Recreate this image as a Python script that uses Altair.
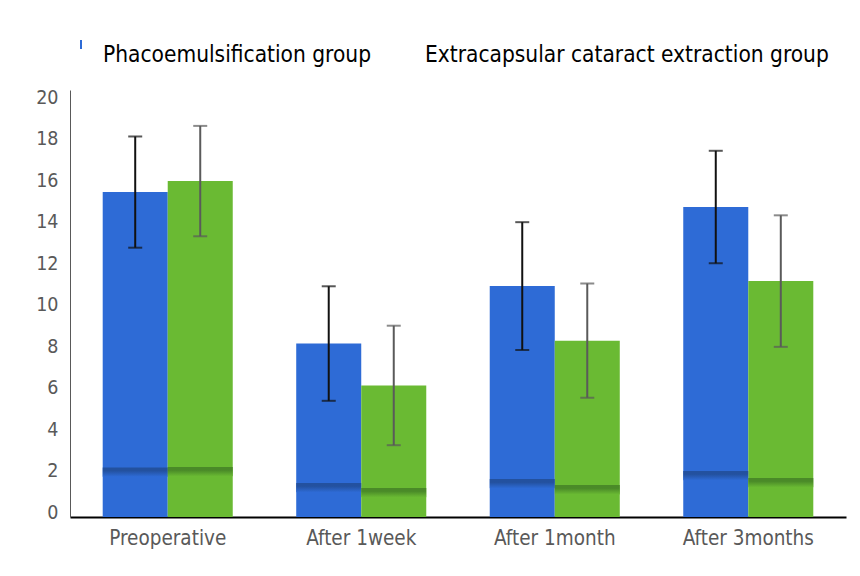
import altair as alt
import pandas as pd

categories = ["Preoperative", "After 1week", "After 1month", "After 3months"]
groups = ["Phacoemulsification group", "Extracapsular cataract extraction group"]
phaco_mean = [15.66, 8.36, 11.13, 14.94]
phaco_sd = [2.68, 2.76, 3.08, 2.71]
ecce_mean = [16.19, 6.34, 8.50, 11.37]
ecce_sd = [2.66, 2.88, 2.75, 3.17]
phaco_band = [2.39, 1.64, 1.83, 2.22]
ecce_band = [2.41, 1.40, 1.54, 1.88]
y_ticks = list(range(0, 21, 2))

bar_colors = ["#2e6bd6", "#6aba33"]
dark_colors = ["#23519f", "#4a8a28"]
err_colors = ["#111111", "#5a5a5a"]
FONT = "Liberation Sans Narrow, DejaVu Sans Condensed, Roboto Condensed, sans-serif"

rows = []
for g, means, sds, bands, ec in [
    (groups[0], phaco_mean, phaco_sd, phaco_band, err_colors[0]),
    (groups[1], ecce_mean, ecce_sd, ecce_band, err_colors[1]),
]:
    for c, m, s, b in zip(categories, means, sds, bands):
        rows.append({"category": c, "group": g, "mean": m, "lo": m - s, "hi": m + s,
                     "band": b, "band_lo": b - 0.45, "errcolor": ec})
df = pd.DataFrame(rows)

x_enc = alt.X("category:N", sort=categories,
              scale=alt.Scale(paddingInner=0.328, paddingOuter=0.169),
              axis=alt.Axis(title=None, labelAngle=0, ticks=False, domainColor="#000000",
                            domainWidth=2, labelColor="#595959", labelFontSize=20.5,
                            labelFont=FONT, labelPadding=11))
xo_enc = alt.XOffset("group:N", sort=groups, scale=alt.Scale(paddingInner=0, paddingOuter=0))
y_scale = alt.Scale(domain=[0, 20.58], nice=False, zero=True)

base = alt.Chart(df)

bars = base.mark_bar().encode(
    x=x_enc, xOffset=xo_enc,
    y=alt.Y("mean:Q", scale=y_scale,
            axis=alt.Axis(title=None, values=y_ticks, grid=False, ticks=False,
                          domainColor="#595959", domainWidth=1, labelColor="#595959",
                          labelFontSize=19.5, labelFont=FONT, labelPadding=12, labelOffset=-5)),
    color=alt.Color("group:N", sort=groups, scale=alt.Scale(domain=groups, range=bar_colors), legend=None),
)

band_layers = []
for g, dc, bc in zip(groups, dark_colors, bar_colors):
    band_layers.append(
        base.transform_filter(alt.datum.group == g).mark_bar(
            color=alt.Gradient(gradient="linear", x1=0, x2=0, y1=0, y2=1,
                               stops=[alt.GradientStop(offset=0, color=dc),
                                      alt.GradientStop(offset=0.35, color=dc),
                                      alt.GradientStop(offset=1, color=bc)])
        ).encode(x=x_enc, xOffset=xo_enc, y=alt.Y("band:Q", scale=y_scale), y2="band_lo:Q")
    )

err = base.mark_rule(strokeWidth=2).encode(
    x=x_enc, xOffset=xo_enc, y=alt.Y("lo:Q", scale=y_scale), y2="hi:Q",
    color=alt.Color("errcolor:N", scale=None),
)
cap_hi = base.mark_tick(size=14, thickness=2).encode(
    x=x_enc, xOffset=xo_enc, y=alt.Y("hi:Q", scale=y_scale),
    color=alt.Color("errcolor:N", scale=None),
)
cap_lo = base.mark_tick(size=14, thickness=2).encode(
    x=x_enc, xOffset=xo_enc, y=alt.Y("lo:Q", scale=y_scale),
    color=alt.Color("errcolor:N", scale=None),
)

legend_df = pd.DataFrame({"group": groups})
leg_base = alt.Chart(legend_df)
leg1 = leg_base.transform_filter(alt.datum.group == groups[0]).mark_text(
    align="left", baseline="middle", font=FONT, fontSize=22.5, color="#000000"
).encode(x=alt.value(33), y=alt.value(-35), text="group:N")
leg2 = leg_base.transform_filter(alt.datum.group == groups[1]).mark_text(
    align="left", baseline="middle", font=FONT, fontSize=22.5, color="#000000"
).encode(x=alt.value(355), y=alt.value(-35), text="group:N")
leg_marker = leg_base.transform_filter(alt.datum.group == groups[0]).mark_rule(
    color=bar_colors[0], strokeWidth=2
).encode(x=alt.value(11), y=alt.value(-50), y2=alt.value(-41))

chart = alt.layer(bars, *band_layers, err, cap_hi, cap_lo, leg1, leg2, leg_marker).properties(
    width=776, height=427,
    autosize=alt.AutoSizeParams(type="none"),
    padding={"left": 62, "top": 82, "right": 6, "bottom": 50},
).configure(background="#ffffff").configure_view(stroke=None)

chart.save("out.html", embed_options={"renderer": "svg", "actions": False})
